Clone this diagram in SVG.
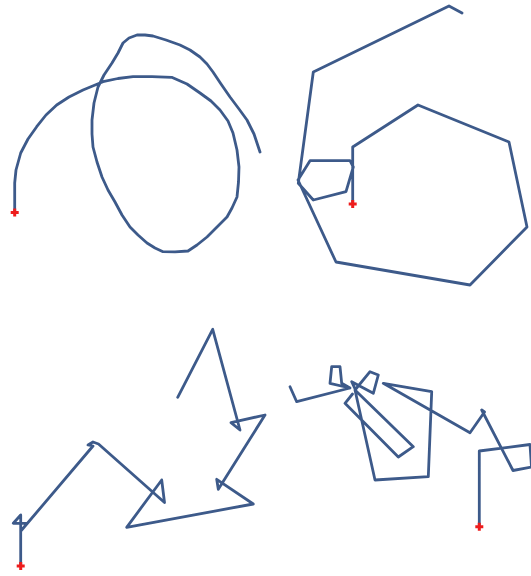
<svg xmlns="http://www.w3.org/2000/svg" width="531" height="576" viewBox="0 0 531 576">
<style>
.p{fill:none;stroke:#3d5a8a;stroke-width:2.8;stroke-linejoin:round;stroke-linecap:round}
.c{fill:none;stroke:#ee1c1c;stroke-width:3}
</style>
<defs><path id="cross" class="c" d="M-4 0H4M0 -4V4"/></defs>
<rect width="531" height="576" fill="#ffffff"/>
<g id="curve">
<path class="p" d="M14.7 212 L14.7 183 L16 170 L20.7 153 L28 139 L36.7 126.7 L46 115 L56.7 105 L69 97 L83 90 L103 81.7 L118 78.5 L133 76.7 L152 76.7 L171.7 77.3 L187 84 L200 93 L211 101 L220 110 L228 121 L233 133 L237 150 L239 167 L238.5 182 L237 197 L232 208 L227 217 L217 227 L207 237 L197 245 L188 251 L175 251.8 L163 251.7 L155 248 L147 243 L138 235 L130 227 L122 215 L115 202 L108 190 L102 177 L97 162 L93 147 L92 134 L92 120 L94 103 L98 87 L104 75 L112 63 L118 53 L123 43 L129 38 L137 35 L145 35 L153 36 L166 40 L180 45 L190 50 L200 57 L207 64 L213 72 L221 84 L230 97 L239 109 L247 120 L254 134 L260 152"/>
</g>
<g id="hexagons">
<path class="p" d="M352.7 204 L352.7 147 L418 105 L509 142 L527 227 L470 285 L336 262 L298 180 L310 160.7 L350 160.7 L353.3 167 L346 191.7 L313.3 200 L298.3 183.3 L313.3 72 L449 6 L462 13"/>
</g>
<g id="arrows">
<path class="p" d="M20.7 566 L20.7 515 L13.3 523.3 L27 523.3 L21.7 530 L93 446 L88 445 L93 442 L98.5 444 L164.5 502.5 L161.7 480 L126.7 527.3 L253.3 504 L216.7 479.3 L218.3 489.3 L265 415 L231 422.7 L240 430 L212.7 329.3 L177.7 397.3"/>
</g>
<g id="scribble">
<path class="p" d="M479.3 526.7 L479.3 451 L530 444.5 L531.5 467 L513 470.5 L481.7 410 L484.5 412 L470 432.7 L383.3 383.3 L431.7 391.7 L428.3 476.7 L375 480 L355 390 L370 371.7 L378.3 375 L373.3 393.3 L351.7 381.7 L356 391 L413.3 446.7 L398.3 457 L345 403.3 L352.5 394"/>
<path class="p" d="M290 386.7 L296.7 401.7 L350 388 L341.7 383.3 L340 366.7 L331.7 366.7 L330 383.3 L350 388"/>
</g>
<use href="#cross" x="14.7" y="212.5"/>
<use href="#cross" x="352.7" y="204"/>
<use href="#cross" x="20.7" y="566"/>
<use href="#cross" x="479.3" y="526.7"/>
</svg>
